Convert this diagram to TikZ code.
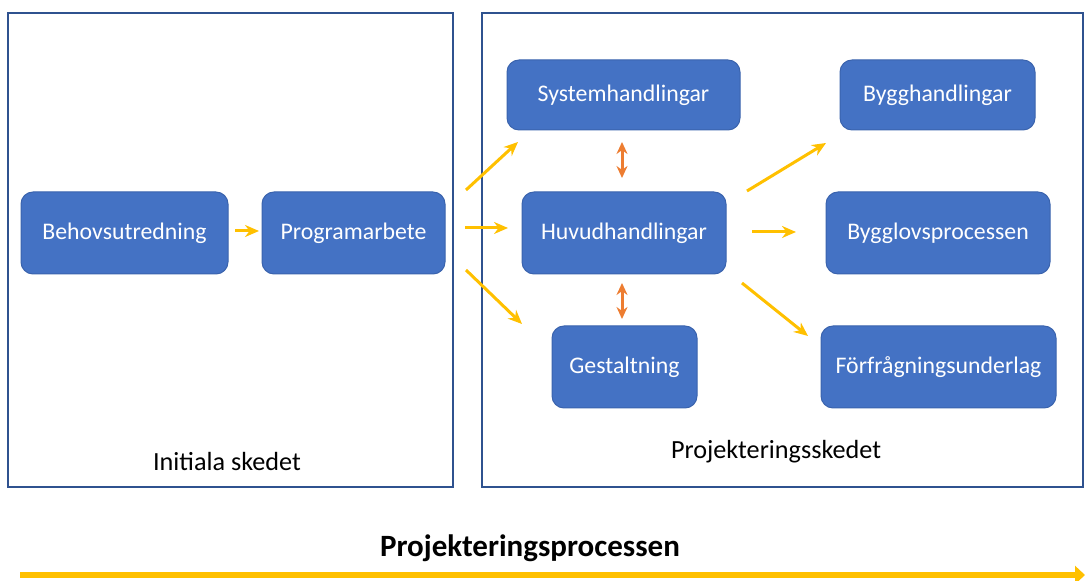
\documentclass[tikz,border=0pt]{standalone}
\usepackage{fontspec}
\setmainfont{Carlito}
\usetikzlibrary{arrows.meta}
\definecolor{boxblue}{HTML}{4472C4}
\definecolor{boxedge}{HTML}{3A63AD}
\definecolor{framec}{HTML}{2F528F}
\definecolor{arry}{HTML}{FFC000}
\definecolor{arro}{HTML}{ED7D31}
\tikzset{
  bx/.style={draw=boxedge, line width=0.5pt, fill=boxblue, rounded corners=6pt, text=white, font=\fontsize{11.9}{14}\selectfont},
  frm/.style={draw=framec, line width=1.1pt},
  ya/.style={draw=arry, line width=1.5pt, -{Stealth[length=7pt,width=6pt]}},
  oa/.style={draw=arro, line width=1.5pt, {Stealth[length=6pt,width=5.5pt]}-{Stealth[length=6pt,width=5.5pt]}},
  lbl/.style={font=\fontsize{13.1}{15}\selectfont}
}
\begin{document}
\begin{tikzpicture}[x=0.5pt,y=-0.5pt]
\useasboundingbox (0,0) rectangle (1085,581);
% frames
\draw[frm] (8,13) rectangle (453,487);
\draw[frm] (482,13) rectangle (1083,487);
% boxes
\node[bx, minimum width=103.5pt, minimum height=41pt] (behov) at (124.5,233) {Behovsutredning};
\node[bx, minimum width=91.5pt, minimum height=41pt] (prog) at (353.5,233) {Programarbete};
\node[bx, minimum width=116.5pt, minimum height=35pt] (sys) at (623.5,95) {Systemhandlingar};
\node[bx, minimum width=102pt, minimum height=41pt] (huvud) at (624,233) {Huvudhandlingar};
\node[bx, minimum width=72.5pt, minimum height=41pt] (gest) at (624.5,367) {Gestaltning};
\node[bx, minimum width=97.5pt, minimum height=35pt] (bygg) at (937.5,95) {Bygghandlingar};
\node[bx, minimum width=112pt, minimum height=41pt] (lov) at (938,233) {Bygglovsprocessen};
\node[bx, minimum width=117.5pt, minimum height=41pt] (forf) at (938.5,367) {Förfrågningsunderlag};
% labels
\node[lbl] (ini) at (227,462) {Initiala skedet};
\node[lbl] (proj) at (776,452) {Projekteringsskedet};
\node[font=\fontsize{15.5}{18}\selectfont\bfseries] (process) at (530,548) {Projekteringsprocessen};
% arrow endpoints
\coordinate (a1s) at (235,231); \coordinate (a1e) at (259,231);
\coordinate (p1s) at (466,190); \coordinate (p1e) at (518,142);
\coordinate (p2s) at (465,228); \coordinate (p2e) at (508,228);
\coordinate (p3s) at (466,270); \coordinate (p3e) at (522,324);
\coordinate (h1s) at (747,191); \coordinate (h1e) at (826,143);
\coordinate (h2s) at (752,232); \coordinate (h2e) at (796,232);
\coordinate (h3s) at (742,283); \coordinate (h3e) at (808,336);
\coordinate (o1s) at (622,142); \coordinate (o1e) at (622,178);
\coordinate (o2s) at (622,283); \coordinate (o2e) at (622,319);
\coordinate (ps) at (20,575); \coordinate (pe) at (1085,575);
% connectors
\draw[ya] (a1s) -- (a1e);
\draw[ya] (p1s) -- (p1e);
\draw[ya] (p2s) -- (p2e);
\draw[ya] (p3s) -- (p3e);
\draw[ya] (h1s) -- (h1e);
\draw[ya] (h2s) -- (h2e);
\draw[ya] (h3s) -- (h3e);
\draw[oa] (o1s) -- (o1e);
\draw[oa] (o2s) -- (o2e);
\draw[draw=arry, line width=3.2pt, -{Triangle[length=5pt,width=9pt]}] (ps) -- (pe);
\end{tikzpicture}
\end{document}
